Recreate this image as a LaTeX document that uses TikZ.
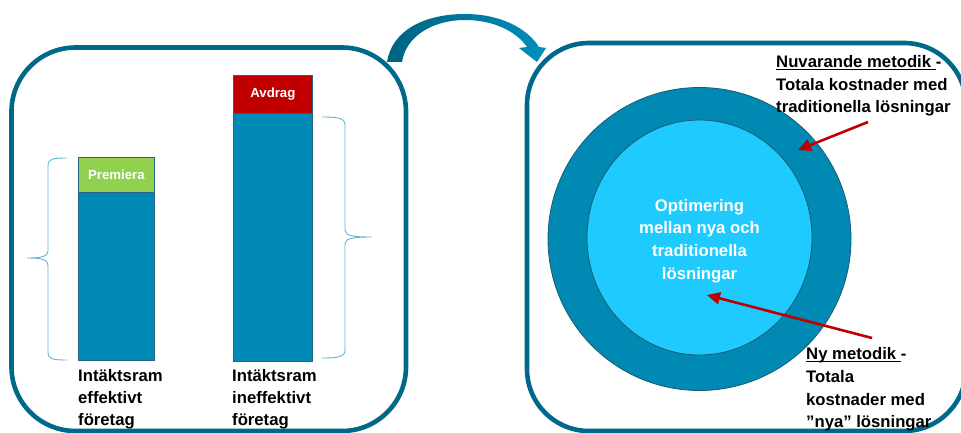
\documentclass[tikz,border=0pt]{standalone}
\usepackage{fontspec}
\setmainfont{Liberation Sans}
\usetikzlibrary{arrows.meta,shapes.geometric}
\definecolor{boxline}{RGB}{0,104,138}
\definecolor{barblue}{RGB}{0,137,180}
\definecolor{baredge}{RGB}{40,100,130}
\definecolor{premgreen}{RGB}{146,208,80}
\definecolor{avdred}{RGB}{192,0,0}
\definecolor{ringblue}{RGB}{0,137,178}
\definecolor{coreblue}{RGB}{31,202,255}
\definecolor{circedge}{RGB}{25,90,115}
\definecolor{bracecol}{RGB}{95,180,214}
\definecolor{arrowred}{RGB}{192,0,0}
\definecolor{arrdark}{RGB}{0,98,128}
\definecolor{arrlight}{RGB}{0,142,188}
\newcommand{\myul}[1]{\setbox0\hbox{#1}\rlap{\rule[-2.4pt]{\wd0}{1.2pt}}\box0}
\begin{document}
\begin{tikzpicture}[x=1pt,y=-1pt,
  frame/.style={draw=boxline,line width=4.6pt},
  seg/.style={draw=baredge,line width=0.8pt,inner sep=0pt,anchor=north west,
    text=white,font=\fontsize{13.2}{15}\selectfont\bfseries},
  brace/.style={draw=bracecol,line width=0.9pt},
  lab/.style={inner sep=0pt,anchor=north west,align=left,text=black,
    font=\fontsize{16.7}{21.6}\selectfont\bfseries},
  rlab/.style={inner sep=0pt,anchor=north west,align=left,text=black,
    font=\fontsize{16.7}{22.3}\selectfont\bfseries},
  redarrow/.style={draw=arrowred,line width=2.6pt,-{Triangle[length=13pt,width=12pt]}}]
\useasboundingbox (0,0) rectangle (961,433);
\fill[white] (0,0) rectangle (961,433);
% frames
\draw[frame,rounded corners=64pt] (11.5,47.5) rectangle (406,431);
\draw[frame,rounded corners=62pt] (527,43) rectangle (966,431);
% curved arrow
\shade[left color=arrdark,right color=arrlight]
  (387,62) .. controls (392,30) and (425,14) .. (465,14)
  .. controls (500,14) and (527,28) .. (539,47)
  -- (546,48) -- (537,62) -- (519,48) -- (527,47)
  .. controls (516,31) and (493,20) .. (465,20)
  .. controls (433,20) and (406,36) .. (402,62) -- cycle;
% bars
\node[seg,fill=premgreen,minimum width=76pt,minimum height=35pt] (prem) at (78,157) {Premiera};
\node[seg,fill=barblue,minimum width=76pt,minimum height=168pt] (bar1) at (78,192) {};
\node[seg,fill=avdred,minimum width=79pt,minimum height=38pt] (avd) at (233,75) {Avdrag};
\node[seg,fill=barblue,minimum width=79pt,minimum height=248pt] (bar2) at (233,113) {};
% braces
\draw[brace] (67,158) .. controls (52,158) and (48,159) .. (48,166) -- (48,251)
  .. controls (48,257) and (40,258) .. (27,258)
  .. controls (40,258) and (48,259) .. (48,265) -- (48,352)
  .. controls (48,359) and (52,360) .. (67,360);
\draw[brace] (322,117) .. controls (338,117) and (345,118) .. (345,125) -- (345,230)
  .. controls (345,236) and (354,237) .. (372,237)
  .. controls (354,237) and (345,238) .. (345,244) -- (345,350)
  .. controls (345,357) and (338,358) .. (322,358);
% labels under bars
\node[lab] (lab1) at (78,369.5) {Intäktsram\\effektivt\\företag};
\node[lab] (lab2) at (232,369.5) {Intäktsram\\ineffektivt\\företag};
% circles
\node[circle,draw=circedge,line width=0.8pt,fill=ringblue,minimum size=303pt,inner sep=0pt] (ring) at (699.5,239) {};
\node[ellipse,draw=circedge,line width=0.8pt,fill=coreblue,minimum width=225pt,minimum height=235pt,inner sep=0pt] (core) at (699.5,237.5) {};
\node[inner sep=0pt,align=center,text=white,font=\fontsize{16.7}{22.6}\selectfont\bfseries] (opt) at (699.5,241)
  {Optimering\\mellan nya och\\traditionella\\lösningar};
% right labels
\node[rlab] (nuv) at (776,55.5) {\myul{Nuvarande metodik\ }-\\Totala kostnader med\\traditionella lösningar};
\node[rlab,font=\fontsize{16.7}{22.6}\selectfont\bfseries] (ny) at (806,347.5) {\myul{Ny metodik\ }-\\Totala\\kostnader med\\”nya” lösningar};
% red arrows
\coordinate (a1s) at (868,122);
\coordinate (a1e) at (798,150);
\coordinate (a2s) at (872,338);
\coordinate (a2e) at (707,295);
\draw[redarrow] (a1s) -- (a1e);
\draw[redarrow] (a2s) -- (a2e);
\end{tikzpicture}
\end{document}
